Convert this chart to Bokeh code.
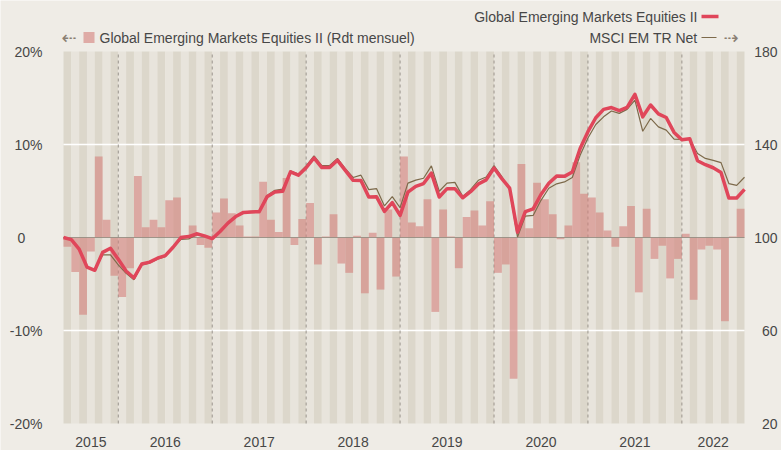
from bokeh.plotting import figure
from bokeh.models import Range1d
from bokeh.core.properties import value
from bokeh.embed import file_html
from bokeh.resources import INLINE

# ---------------- data ----------------
years = ["2015", "2016", "2017", "2018", "2019", "2020", "2021", "2022"]
months_per_year = [7, 12, 12, 12, 12, 12, 12, 8]          # Jun 2015 .. Aug 2022

monthly_returns = [
    -1.0, -3.7, -8.3, -1.5, 8.7, 1.9, -4.1,                               # 2015
    -6.4, -3.3, 6.6, 1.1, 1.9, 1.1, 4.0, 4.3, 0.2, 1.3, -0.8, -1.1,       # 2016
    2.7, 4.2, 2.6, 1.3, 0.1, 0.1, 6.0, 1.9, 0.6, 6.4, -0.8, 2.0,          # 2017
    3.7, -2.9, 0.1, 2.5, -2.8, -3.8, 0.2, -6.0, 0.5, -5.6, 3.0, -4.2,     # 2018
    8.7, 1.6, 1.2, 4.1, -8.0, 3.0, 0.1, -3.3, 2.2, 2.9, 1.3, 3.9,         # 2019
    -3.8, -2.9, -15.2, 7.9, 1.0, 5.9, 4.1, 2.5, -0.2, 1.3, 8.1, 4.7,      # 2020
    4.3, 2.7, 0.75, -1.0, 1.2, 3.4, -5.9, 3.1, -2.3, -0.9, -4.4, -2.3,    # 2021
    0.4, -6.7, -1.3, -0.9, -1.3, -9.0, 0.1, 3.1,                          # 2022
]

fund_index = [
    100.0, 99.1, 95.0, 87.3, 85.9, 93.6, 95.4, 90.6,
    85.6, 82.6, 88.6, 89.4, 91.1, 92.2, 95.8, 100.0, 100.4, 101.6, 100.7, 99.5,
    102.6, 106.2, 109.0, 110.8, 111.0, 111.1, 117.5, 119.6, 119.9, 128.2, 126.8, 130.0,
    134.2, 130.1, 130.1, 133.2, 128.9, 124.6, 124.5, 117.4, 117.5, 111.2, 115.0, 109.5,
    119.5, 122.0, 123.2, 127.7, 117.4, 121.0, 121.0, 117.1, 119.7, 123.0, 124.8, 129.9,
    125.3, 121.2, 102.3, 111.1, 112.3, 118.5, 123.3, 126.4, 126.3, 128.2, 138.3, 145.5,
    151.5, 155.1, 155.9, 154.6, 156.0, 161.6, 151.9, 157.0, 153.2, 151.6, 145.2, 142.0,
    142.5, 133.0, 131.3, 130.0, 128.0, 117.0, 117.0, 120.7,
]

bench_index = [
    100.0, 99.1, 95.0, 87.3, 85.9, 92.5, 92.5, 88.2,
    84.6, 81.8, 88.2, 89.0, 90.7, 91.8, 95.6, 99.2, 99.4, 101.2, 100.5, 99.4,
    102.4, 106.0, 109.0, 111.0, 111.2, 111.4, 118.1, 120.3, 120.8, 128.7, 127.3, 130.8,
    135.1, 130.9, 131.0, 134.0, 129.6, 125.8, 126.8, 120.6, 121.0, 113.6, 117.6, 112.8,
    123.4, 124.7, 125.5, 130.8, 119.9, 123.4, 123.7, 117.7, 120.6, 124.6, 126.0, 130.9,
    126.2, 120.3, 100.2, 109.2, 109.5, 116.0, 121.2, 123.1, 123.9, 125.8, 135.4, 142.8,
    148.6, 151.9, 154.4, 153.4, 155.1, 159.1, 145.7, 151.2, 147.6, 146.2, 142.3, 142.2,
    142.4, 136.1, 134.0, 133.2, 132.2, 123.2, 122.4, 125.9,
]

left_ticks = [-20, -10, 10, 20]
left_labels = ["-20%", "-10%", "10%", "20%"]
zero_tick = 0
zero_label = "0"
right_ticks = [20, 60, 100, 140, 180]
right_labels = ["20", "60", "100", "140", "180"]

fund_name = "Global Emerging Markets Equities II"
bench_name = "MSCI EM TR Net"
bars_name = "Global Emerging Markets Equities II (Rdt mensuel)"

# ---------------- layout / style ----------------
W, H = 781, 450
FL, FR, FT, FB = 63, 744, 51, 423          # chart box in pixels
n = len(monthly_returns)
y_lo, y_hi = -20.0, 20.0
pxm = (FR - FL) / n
pyv = (FB - FT) / (y_hi - y_lo)

def fx(px):
    return (px - FL) / pxm

def fy(py):
    return y_hi - (py - FT) / pyv

ybot, ytop = fy(H), fy(0)

BG = "#efece6"
STRIPE_D = "#dcd7cb"
STRIPE_L = "#e8e4dc"
BAR = "#d4807c"
RED = "#e0465a"
BROWN = "#7d6a4b"
TXT = "#474747"
ARROW = "#8a7f72"
FONT = "Liberation Sans"

p = figure(width=W, height=H, x_range=Range1d(fx(0), fx(W)), y_range=Range1d(ybot, ytop),
           output_backend="svg", toolbar_location=None,
           x_axis_location=None, y_axis_location=None,
           min_border_left=0, min_border_right=0, min_border_top=0, min_border_bottom=0,
           background_fill_color=BG, border_fill_color=BG, outline_line_color=None)
p.grid.visible = False
# right-hand scale: index value = 100 + 4 * (monthly % value)
p.extra_y_ranges = {"idx": Range1d(100 + 4 * ybot, 100 + 4 * ytop)}

# stripes (one per month)
lefts = list(range(n))
rights = [i + 1 for i in range(n)]
colors = [STRIPE_D if i % 2 == 0 else STRIPE_L for i in range(n)]
p.quad(left=lefts, right=rights, bottom=y_lo, top=y_hi, fill_color=colors, line_color=None)

# white grid lines
p.segment(x0=[0, 0], x1=[n, n], y0=[10, -10], y1=[10, -10], line_color="white", line_width=1.5)

# year separators
starts = []
acc = 0
for m in months_per_year:
    starts.append(acc)
    acc += m
seps = starts[1:]
p.segment(x0=seps, x1=seps, y0=[y_lo] * len(seps), y1=[y_hi] * len(seps),
          line_color="#9a948c", line_width=1, line_dash="3 3")

# monthly bars
p.quad(left=lefts, right=rights, bottom=[0] * n, top=monthly_returns,
       fill_color=BAR, fill_alpha=0.6, line_color=None)

# zero line
p.segment(x0=[0], x1=[n], y0=[0], y1=[0], line_color="#8f877c", line_width=1.2, line_alpha=0.8)

# index lines
xs = list(range(n + 1))
p.line(xs, bench_index, y_range_name="idx", line_color=BROWN, line_width=1.2)
p.line(xs, fund_index, y_range_name="idx", line_color=RED, line_width=3.5, line_join="round")

# x labels (years, centred under each year's months)
mids = [s + m / 2 for s, m in zip(starts, months_per_year)]
p.text(x=mids, y=[fy(441.5)] * len(years), text=years, text_align="center", text_baseline="middle",
       text_font=value(FONT), text_font_size=value("14px"), text_color=TXT)

# left scale labels
p.text(x=[fx(42)] * len(left_ticks), y=left_ticks, text=left_labels,
       text_align="right", text_baseline="middle",
       text_font=value(FONT), text_font_size=value("14px"), text_color=TXT)
p.text(x=[fx(21)], y=[zero_tick], text=[zero_label],
       text_align="center", text_baseline="middle",
       text_font=value(FONT), text_font_size=value("14px"), text_color=TXT)

# right scale labels
p.text(x=[fx(777)] * len(right_ticks), y=right_ticks, text=right_labels, y_range_name="idx",
       text_align="right", text_baseline="middle",
       text_font=value(FONT), text_font_size=value("14px"), text_color=TXT)

# legend (top)
p.text(x=[fx(697), fx(697)], y=[fy(16), fy(37)], text=[fund_name, bench_name],
       text_align="right", text_baseline="middle",
       text_font=value(FONT), text_font_size=value("14px"), text_color=TXT)
p.line([fx(701), fx(718)], [fy(16), fy(16)], line_color=RED, line_width=3.5)
p.line([fx(701), fx(716)], [fy(37), fy(37)], line_color=BROWN, line_width=1.2)
p.text(x=[fx(723)], y=[fy(37)], text=["\u21e2"], text_align="left", text_baseline="middle",
       text_font=value("DejaVu Sans"), text_font_size=value("18px"), text_color=ARROW)

p.text(x=[fx(61)], y=[fy(37)], text=["\u21e0"], text_align="left", text_baseline="middle",
       text_font=value("DejaVu Sans"), text_font_size=value("18px"), text_color=ARROW)
p.quad(left=[fx(83)], right=[fx(94)], bottom=[fy(42.5)], top=[fy(31.5)],
       fill_color=BAR, fill_alpha=0.6, line_color=None)
p.text(x=[fx(99)], y=[fy(37)], text=[bars_name], text_align="left", text_baseline="middle",
       text_font=value(FONT), text_font_size=value("14px"), text_color=TXT)

open("out.html", "w").write(file_html(p, INLINE))
